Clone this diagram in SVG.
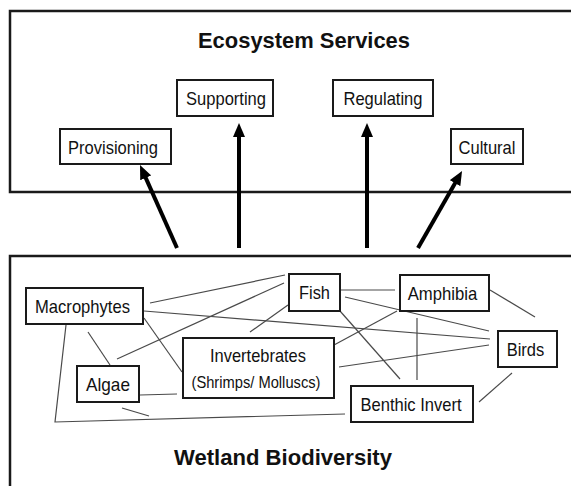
<svg xmlns="http://www.w3.org/2000/svg" width="571" height="486" viewBox="0 0 571 486">
<style>
text{font-family:"Liberation Sans",Arial,sans-serif;fill:#111;text-anchor:middle}
.title{font-size:21.5px;font-weight:bold}
.lbl{font-size:18.5px}
.sm{font-size:16.5px}
.frame{fill:none;stroke:#1a1a1a;stroke-width:2.5}
.box{fill:#fff;stroke:#1a1a1a;stroke-width:2}
.arr{stroke:#000;stroke-width:4;fill:none}
.c{stroke:#4a4a4a;stroke-width:1.2;fill:none}
</style>
<defs>
<marker id="ah" markerUnits="userSpaceOnUse" markerWidth="14" markerHeight="12" refX="1" refY="6" orient="auto">
<path d="M0,0 L14,6 L0,12 z" fill="#000"/>
</marker>
</defs>
<rect width="571" height="486" fill="#fff"/>
<g id="ecosystem-services">
<rect class="frame" x="10" y="11" width="580" height="181"/>
<text class="title" x="304" y="47.5" textLength="212" lengthAdjust="spacingAndGlyphs">Ecosystem Services</text>
</g>
<g id="wetland-biodiversity">
<rect class="frame" x="10" y="256" width="580" height="260"/>
<text class="title" x="283" y="464.5" style="font-size:22.5px" textLength="218" lengthAdjust="spacingAndGlyphs">Wetland Biodiversity</text>
</g>
<g id="connectors">
<line class="arr" x1="177" y1="248" x2="145.3" y2="176.9" marker-end="url(#ah)"/>
<line class="arr" x1="239" y1="248" x2="239" y2="136" marker-end="url(#ah)"/>
<line class="arr" x1="367" y1="248" x2="367" y2="136" marker-end="url(#ah)"/>
<line class="arr" x1="418" y1="248" x2="455.6" y2="182.3" marker-end="url(#ah)"/>
<line class="c" x1="150" y1="303" x2="285" y2="275"/>
<line class="c" x1="117" y1="359" x2="284" y2="283"/>
<line class="c" x1="144" y1="311" x2="490" y2="339"/>
<line class="c" x1="345" y1="297" x2="489" y2="331"/>
<line class="c" x1="339" y1="367" x2="489" y2="345"/>
<line class="c" x1="144" y1="318" x2="182" y2="372"/>
<line class="c" x1="88" y1="332" x2="110" y2="365"/>
<line class="c" x1="140" y1="395" x2="177" y2="394"/>
<line class="c" x1="122" y1="408" x2="149" y2="416"/>
<polyline class="c" points="66,325 55,422 345,414"/>
<line class="c" x1="288" y1="305" x2="250" y2="332"/>
<line class="c" x1="340" y1="290" x2="395" y2="290"/>
<line class="c" x1="340" y1="311" x2="400" y2="379"/>
<line class="c" x1="397" y1="311" x2="334" y2="345"/>
<line class="c" x1="417" y1="318" x2="417" y2="380"/>
<line class="c" x1="490" y1="290" x2="535" y2="317"/>
<line class="c" x1="512" y1="373" x2="479" y2="402"/>
</g>
<g id="provisioning">
<rect class="box" x="60" y="129" width="111" height="35"/>
<text class="lbl" x="113" y="154" textLength="90" lengthAdjust="spacingAndGlyphs">Provisioning</text>
</g>
<g id="supporting">
<rect class="box" x="177" y="80" width="96" height="36"/>
<text class="lbl" x="226" y="104.5" textLength="80" lengthAdjust="spacingAndGlyphs">Supporting</text>
</g>
<g id="regulating">
<rect class="box" x="333" y="80" width="100" height="36"/>
<text class="lbl" x="383" y="104.5" textLength="79" lengthAdjust="spacingAndGlyphs">Regulating</text>
</g>
<g id="cultural">
<rect class="box" x="451" y="129" width="72" height="35"/>
<text class="lbl" x="487" y="154" textLength="57" lengthAdjust="spacingAndGlyphs">Cultural</text>
</g>
<g id="macrophytes">
<rect class="box" x="26" y="288" width="117" height="36"/>
<text class="lbl" x="82.5" y="313" textLength="95" lengthAdjust="spacingAndGlyphs">Macrophytes</text>
</g>
<g id="algae">
<rect class="box" x="77" y="366" width="62" height="36"/>
<text class="lbl" x="108" y="391" textLength="44" lengthAdjust="spacingAndGlyphs">Algae</text>
</g>
<g id="invertebrates">
<rect class="box" x="183" y="338" width="151" height="60"/>
<text class="lbl" x="258" y="362" textLength="96" lengthAdjust="spacingAndGlyphs">Invertebrates</text>
<text class="sm" x="256" y="388" textLength="129" lengthAdjust="spacingAndGlyphs">(Shrimps/ Molluscs)</text>
</g>
<g id="fish">
<rect class="box" x="289" y="274" width="51" height="37"/>
<text class="lbl" x="314.5" y="299" textLength="31" lengthAdjust="spacingAndGlyphs">Fish</text>
</g>
<g id="amphibia">
<rect class="box" x="400" y="275" width="89" height="36"/>
<text class="lbl" x="442.5" y="299.5" textLength="69.5" lengthAdjust="spacingAndGlyphs">Amphibia</text>
</g>
<g id="birds">
<rect class="box" x="498" y="331" width="59" height="36"/>
<text class="lbl" x="525.5" y="356" textLength="37.6" lengthAdjust="spacingAndGlyphs">Birds</text>
</g>
<g id="benthic-invert">
<rect class="box" x="351" y="386" width="122" height="36"/>
<text class="lbl" x="411" y="411" textLength="101" lengthAdjust="spacingAndGlyphs">Benthic Invert</text>
</g>
</svg>
